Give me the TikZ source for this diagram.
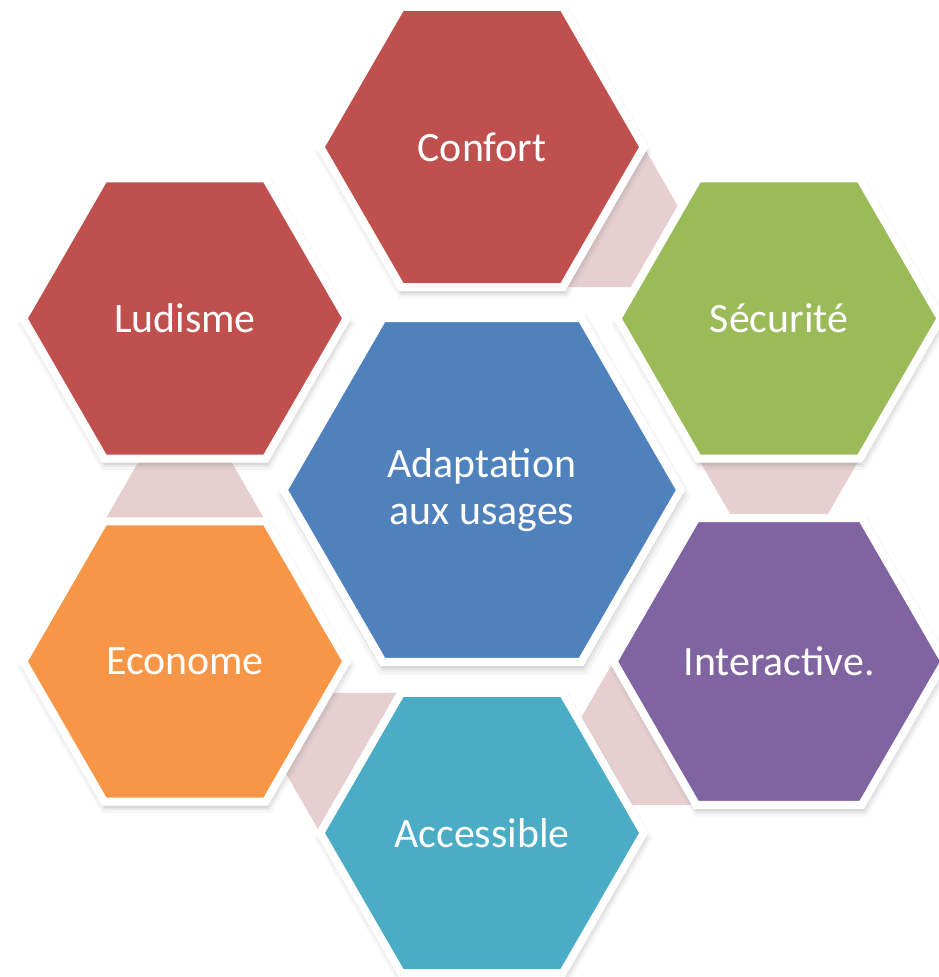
\documentclass[tikz,border=0pt]{standalone}
\usepackage{fontspec}
\setmainfont{Carlito}
\usepackage{tikz}
\usetikzlibrary{shapes.geometric,calc,shadows,backgrounds}

\definecolor{hexred}{RGB}{192,80,77}
\definecolor{hexgreen}{RGB}{155,187,89}
\definecolor{hexpurple}{RGB}{128,100,162}
\definecolor{hexaqua}{RGB}{75,172,198}
\definecolor{hexorange}{RGB}{247,150,70}
\definecolor{hexblue}{RGB}{79,129,189}
\definecolor{linkpink}{RGB}{231,207,208}

\begin{document}
\begin{tikzpicture}[x=0.02cm, y=0.02cm,
    every node/.style={font=\fontsize{23.8}{27.2}\selectfont, text=white}]
  \tikzstyle{hexa} = [regular polygon, regular polygon sides=6, draw=white,
      line width=0.16cm, minimum size=6.47cm, outer sep=0pt, align=center,
      drop shadow={shadow scale=1.045, shadow xshift=0.03cm,
        shadow yshift=-0.1cm, opacity=0.07},
      drop shadow={shadow scale=1.025, shadow xshift=0.03cm,
        shadow yshift=-0.1cm, opacity=0.12},
      drop shadow={shadow scale=1.01, shadow xshift=0.02cm,
        shadow yshift=-0.1cm, opacity=0.15}]
  \tikzstyle{core} = [hexa, minimum size=7.94cm]
  \tikzstyle{link} = [fill=linkpink]

  \useasboundingbox (-482,-487) rectangle (456,490);

  % Centre hexagon, the six others on a ring of 343px around it
  \node (centre) [core, fill=hexblue]    at (0,0)      {Adaptation\\aux usages};
  \node (conf)   [hexa, fill=hexred]     at (90:343)   {Confort};
  \node (secu)   [hexa, fill=hexgreen]   at (30:343)   {Sécurité};
  \node (inter)  [hexa, fill=hexpurple]  at (-30:343)  {Interactive.};
  \node (acces)  [hexa, fill=hexaqua]    at (-90:343)  {Accessible};
  \node (econ)   [hexa, fill=hexorange]  at (-150:343) {Econome};
  \node (ludi)   [hexa, fill=hexred]     at (150:343)  {Ludisme};

  % Pink links: a triangle on the side facing the next hexagon,
  % its tip is the centre mirrored across that side
  \begin{scope}[on background layer]
    \fill[link] (conf.300) -- (conf.0)
      -- ($(conf.300)+(conf.0)-(conf.center)$) -- cycle;
    \fill[link] (secu.240) -- (secu.300)
      -- ($(secu.240)+(secu.300)-(secu.center)$) -- cycle;
    \fill[link] (inter.180) -- (inter.240)
      -- ($(inter.180)+(inter.240)-(inter.center)$) -- cycle;
    \fill[link] (acces.120) -- (acces.180)
      -- ($(acces.120)+(acces.180)-(acces.center)$) -- cycle;
    \fill[link] (econ.60) -- (econ.120)
      -- ($(econ.60)+(econ.120)-(econ.center)$) -- cycle;
  \end{scope}
\end{tikzpicture}
\end{document}
